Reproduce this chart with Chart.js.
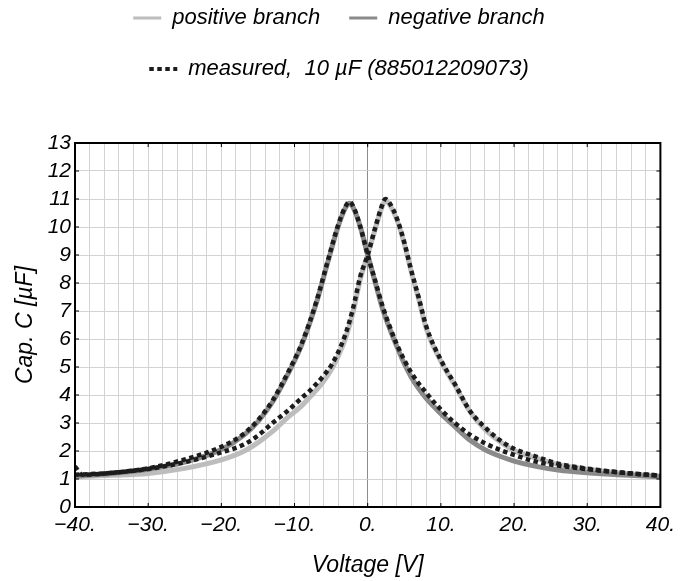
<!DOCTYPE html>
<html>
<head>
<meta charset="utf-8">
<script src="https://cdn.jsdelivr.net/npm/chart.js@4.4.1/dist/chart.umd.min.js"></script>
<style>
  html, body { margin: 0; padding: 0; background: #fff; }
  #wrap { width: 681px; height: 581px; }
</style>
</head>
<body>
<div id="wrap"><canvas id="cvChart" width="681" height="581"></canvas></div>
<script>
// positive branch (light gray), peak just right of 0 V
var posVolt = [-40, -35, -30, -25, -20, -17, -15, -13, -11, -9, -8, -7, -6, -5, -4, -3, -2, -1, 0, 1, 2, 2.4,
               3, 4, 5, 6, 7, 8, 10, 12, 14, 16, 18, 20, 23, 26, 30, 35, 40];
var posCap  = [1.08, 1.13, 1.2, 1.38, 1.68, 1.98, 2.3, 2.7, 3.18, 3.62, 3.9, 4.18, 4.5, 4.89, 5.4, 6.05, 6.95, 8.15, 9.0, 9.9, 10.75, 10.95,
               10.8, 10.25, 9.4, 8.35, 7.4, 6.38, 5.2, 4.3, 3.4, 2.78, 2.35, 2.02, 1.75, 1.52, 1.35, 1.2, 1.1];

// negative branch (dark gray), peak just left of 0 V
var negVolt = [-40, -35, -30, -25, -20, -17, -15, -13, -11, -9, -7, -5.5, -4, -3, -2.5, -2, -1, 0, 1, 2,
               3, 4, 5, 6, 7, 8, 9, 10, 12, 14, 16, 18, 20, 23, 26, 30, 35, 40];
var negCap  = [1.1, 1.2, 1.35, 1.6, 2.05, 2.55, 3.05, 3.75, 4.7, 5.8, 7.3, 8.7, 10.05, 10.7, 10.85, 10.7, 10.0, 9.0, 8.05, 7.1,
               6.37, 5.72, 5.12, 4.62, 4.22, 3.88, 3.6, 3.33, 2.85, 2.38, 2.05, 1.82, 1.64, 1.45, 1.32, 1.22, 1.14, 1.08];

// measured, sweep that follows the negative branch
var measAVolt = [-40, -39, -35, -30, -25, -20, -17, -15, -13, -11, -9, -7, -5.5, -4, -3, -2.5, -2, -1, 0, 1,
                 2, 3, 4, 5, 6, 7, 8, 9, 10, 12, 14, 16, 18, 20, 23, 26, 30, 35, 40];
var measACap  = [1.45, 1.15, 1.22, 1.38, 1.7, 2.15, 2.6, 3.1, 3.8, 4.75, 5.85, 7.35, 8.75, 10.1, 10.75, 10.9, 10.75, 10.0, 9.0, 8.1,
                 7.2, 6.45, 5.8, 5.25, 4.78, 4.4, 4.08, 3.76, 3.48, 2.98, 2.58, 2.28, 2.05, 1.86, 1.62, 1.48, 1.35, 1.22, 1.12];

// measured, sweep that follows the positive branch
var measBVolt = [-40, -35, -30, -25, -20, -17, -15, -13, -11, -9, -8, -7, -6, -5, -4, -3, -2, -1, 0, 1,
                 2, 2.4, 3, 4, 5, 6, 7, 8, 10, 12, 14, 16, 18, 20, 23, 26, 30, 35, 40];
var measBCap  = [1.15, 1.22, 1.36, 1.6, 1.95, 2.22, 2.55, 3.0, 3.42, 3.9, 4.13, 4.4, 4.7, 5.05, 5.55, 6.2, 7.1, 8.25, 9.0, 9.95,
                 10.8, 11.0, 10.85, 10.3, 9.45, 8.4, 7.45, 6.45, 5.25, 4.35, 3.42, 2.85, 2.4, 2.08, 1.8, 1.55, 1.37, 1.22, 1.12];

// labelled ticks on the voltage axis (grid every 2 V)
var xLabelVals = [-40, -30, -20, -10, 0, 10, 20, 30, 40];

function toPoints(xs, ys) {
  return xs.map(function (v, i) { return { x: v, y: ys[i] }; });
}

Chart.defaults.font.family = "'Liberation Sans Narrow', 'Liberation Sans', sans-serif";
Chart.defaults.font.style = 'italic';
Chart.defaults.font.size = 21;
Chart.defaults.color = '#000';

// black frame round the plot + short inward ticks
var framePlugin = {
  id: 'frame',
  afterDatasetsDraw: function (chart) {
    var ctx = chart.ctx, a = chart.chartArea;
    var xs = chart.scales.x, ys = chart.scales.y;
    ctx.save();
    ctx.strokeStyle = '#000';
    ctx.lineWidth = 1;
    ctx.beginPath();
    xLabelVals.forEach(function (v) {
      var px = xs.getPixelForValue(v);
      ctx.moveTo(px, a.bottom); ctx.lineTo(px, a.bottom - 4);
      ctx.moveTo(px, a.top); ctx.lineTo(px, a.top + 4);
    });
    for (var c = 1; c < 13; c++) {
      var py = ys.getPixelForValue(c);
      ctx.moveTo(a.left, py); ctx.lineTo(a.left + 4, py);
      ctx.moveTo(a.right, py); ctx.lineTo(a.right - 4, py);
    }
    ctx.stroke();
    ctx.lineWidth = 2;
    ctx.strokeRect(a.left, a.top, a.right - a.left, a.bottom - a.top);
    ctx.restore();
  }
};

function gridColor(c) {
  return c.tick && c.tick.value === 0 && c.scale.axis === 'x' ? '#8c8c8c' : '#d3d3d3';
}

var dots = [4.5, 3.5];

var ctx = document.getElementById('cvChart').getContext('2d');
var capChart = new Chart(ctx, {
  type: 'line',
  data: {
    datasets: [{
      label: 'positive branch',
      data: toPoints(posVolt, posCap),
      borderColor: '#bdbdbd',
      borderWidth: 5,
      order: 3
    }, {
      label: 'negative branch',
      data: toPoints(negVolt, negCap),
      borderColor: '#8a8a8a',
      borderWidth: 5,
      order: 2
    }, {
      label: 'measured,  10 \u00b5F (885012209073)',
      data: toPoints(measAVolt, measACap),
      borderColor: '#1c1c1c',
      borderWidth: 4.5,
      borderDash: dots,
      order: 1
    }, {
      label: '',
      data: toPoints(measBVolt, measBCap),
      borderColor: '#1c1c1c',
      borderWidth: 4.5,
      borderDash: dots,
      order: 0
    }]
  },
  options: {
    responsive: false,
    animation: false,
    elements: {
      point: { radius: 0, hoverRadius: 0 },
      line: { cubicInterpolationMode: 'monotone', fill: false }
    },
    layout: { padding: { top: -22, left: 12, right: 15, bottom: 0 } },
    scales: {
      x: {
        type: 'linear',
        min: -40,
        max: 40,
        ticks: {
          stepSize: 2,
          maxTicksLimit: 41,
          autoSkip: false,
          maxRotation: 0,
          padding: 6,
          callback: function (v) {
            if (xLabelVals.indexOf(v) < 0) return '';
            return v < 0 ? '\u2212' + Math.abs(v) + '.' : v + '.';
          }
        },
        grid: { color: gridColor, drawTicks: false, lineWidth: 1 },
        border: { display: false },
        title: { display: true, text: 'Voltage [V]', font: { size: 23 }, padding: { top: 0, bottom: 2 } },
        afterFit: function (s) { s.height = 74; }
      },
      y: {
        min: 0,
        max: 13,
        ticks: { stepSize: 1, maxTicksLimit: 14, autoSkip: false, padding: 4 },
        grid: { color: gridColor, drawTicks: false, lineWidth: 1 },
        border: { display: false },
        title: { display: true, text: 'Cap. C [\u00b5F]', font: { size: 23 }, padding: { top: 0, bottom: 0 } },
        afterFit: function (s) { s.width = 63; }
      }
    },
    plugins: {
      legend: {
        weight: 3000,
        labels: {
          usePointStyle: true,
          pointStyle: 'line',
          pointStyleWidth: 28,
          padding: 29,
          font: { size: 22 },
          color: '#000',
          filter: function (item) { return item.text !== ''; },
          sort: function (a, b) { return a.datasetIndex - b.datasetIndex; },
          generateLabels: function (chart) {
            return Chart.defaults.plugins.legend.labels.generateLabels(chart).map(function (item) {
              var ds = chart.data.datasets[item.datasetIndex];
              item.lineDash = ds.borderDash || [];
              item.lineWidth = ds.borderDash ? 4 : 3;
              item.strokeStyle = ds.borderColor;
              return item;
            });
          }
        }
      },
      // empty title used only as a spacer under the legend
      title: { display: true, text: '', font: { size: 10, lineHeight: 1 }, padding: { top: 0, bottom: 43 } },
      tooltip: { enabled: false }
    }
  },
  plugins: [framePlugin]
});
</script>
</body>
</html>
